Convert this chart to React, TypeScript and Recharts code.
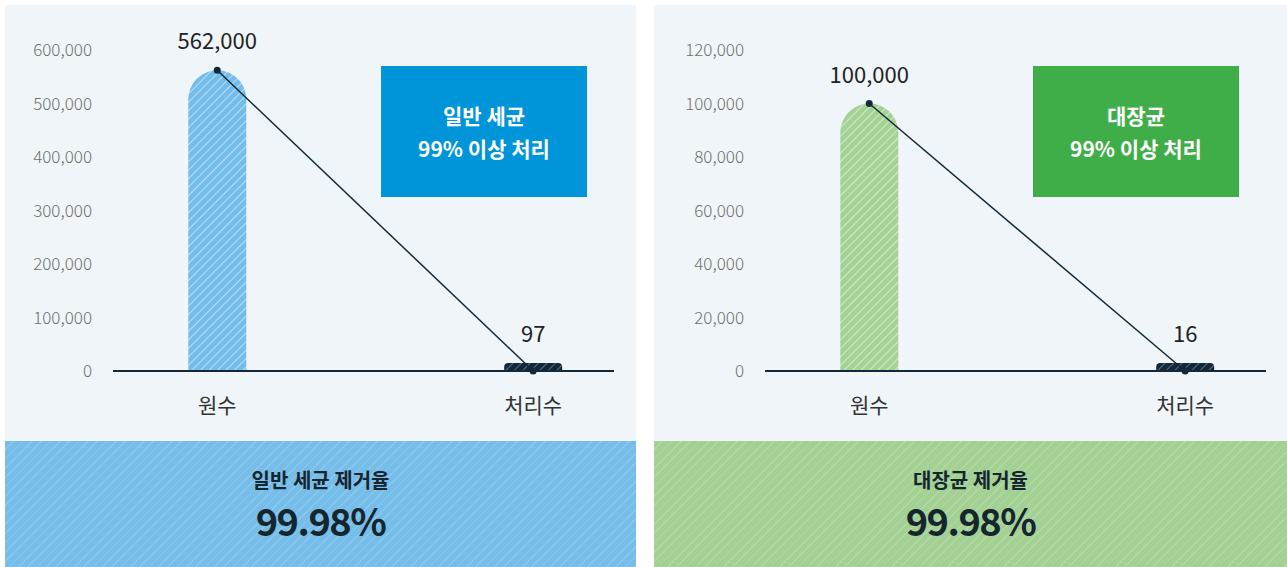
import { ComposedChart, Bar, Line, XAxis, YAxis, Cell, LabelList } from "recharts";

const categories = ["원수", "처리수"];
const germValues = [562000, 97];
const coliValues = [100000, 16];
const germTicks = [0, 100000, 200000, 300000, 400000, 500000, 600000];
const coliTicks = [0, 20000, 40000, 60000, 80000, 100000, 120000];

const FONT = '"Noto Sans CJK KR", "Noto Sans", sans-serif';
const DARK = "#13293a";

interface PanelProps {
  id: string;
  left: number;
  width: number;
  values: number[];
  ticks: number[];
  barColor: string;
  boxColor: string;
  boxLines: string[];
  bandColor: string;
  bandTitle: string;
  rate: string;
  chartShift: number;
}

function Dot(props: any) {
  const { cx, cy } = props;
  if (cx == null || cy == null) return null;
  return <circle cx={cx} cy={cy} r={3.5} fill={DARK} />;
}

function Panel({
  id,
  left,
  width,
  values,
  ticks,
  barColor,
  boxColor,
  boxLines,
  bandColor,
  bandTitle,
  rate,
  chartShift,
}: PanelProps) {
  const data = categories.map((name, idx) => ({ idx, name, value: values[idx] }));
  const max = ticks[ticks.length - 1];

  return (
    <div style={{ position: "absolute", left, top: 5, width, height: 562, background: "#eff5f8" }}>
      <div style={{ position: "absolute", left: chartShift, top: 0 }}>
        <ComposedChart
          width={631}
          height={436}
          data={data}
          margin={{ top: 45, right: 22, bottom: 0, left: 0 }}
        >
          <defs>
            <pattern
              id={`${id}-light`}
              patternUnits="userSpaceOnUse"
              width={6}
              height={6}
              patternTransform="rotate(45)"
            >
              <rect width={6} height={6} fill={barColor} />
              <line x1={0} y1={0} x2={0} y2={6} stroke="#ffffff" strokeWidth={1.2} strokeOpacity={0.85} />
            </pattern>
            <pattern
              id={`${id}-dark`}
              patternUnits="userSpaceOnUse"
              width={6}
              height={6}
              patternTransform="rotate(45)"
            >
              <rect width={6} height={6} fill={DARK} />
              <line x1={0} y1={0} x2={0} y2={6} stroke="#9fb3c0" strokeWidth={1} />
            </pattern>
          </defs>
          <XAxis
            dataKey="idx"
            type="number"
            domain={[-0.33, 1.256]}
            ticks={[0, 1]}
            tickFormatter={(i: number) => categories[i]}
            axisLine={{ stroke: DARK, strokeWidth: 2 }}
            tickLine={false}
            tickSize={0}
            tickMargin={27}
            height={70}
            tick={{ fontSize: 21, fill: "#333333", fontFamily: FONT }}
          />
          <YAxis
            type="number"
            domain={[0, max]}
            ticks={ticks}
            tickFormatter={(v: number) => v.toLocaleString("en-US")}
            axisLine={false}
            tickLine={false}
            tickSize={0}
            tickMargin={21}
            width={108}
            tick={{ fontSize: 17, fill: "#707070", fontFamily: FONT, fontWeight: 300 }}
          />
          <Bar
            dataKey="value"
            barSize={58}
            minPointSize={8}
            radius={[29, 29, 0, 0]}
            isAnimationActive={false}
          >
            {data.map((d) => (
              <Cell key={d.name} fill={`url(#${id}-${d.idx === 0 ? "light" : "dark"})`} />
            ))}
            <LabelList
              dataKey="value"
              position="top"
              offset={21}
              formatter={(v: any) => Number(v).toLocaleString("en-US")}
              style={{ fontSize: 22, fill: "#222222", fontFamily: FONT }}
            />
          </Bar>
          <Line
            dataKey="value"
            stroke={DARK}
            strokeWidth={1.5}
            dot={<Dot />}
            activeDot={false}
            isAnimationActive={false}
          />
        </ComposedChart>
      </div>

      <div
        style={{
          position: "absolute",
          left: 376 + chartShift,
          top: 61,
          width: 206,
          height: 131,
          background: boxColor,
          color: "#ffffff",
          fontFamily: FONT,
          fontWeight: 700,
          fontSize: 21,
          lineHeight: "33px",
          display: "flex",
          flexDirection: "column",
          alignItems: "center",
          justifyContent: "center",
        }}
      >
        {boxLines.map((t) => (
          <div key={t}>{t}</div>
        ))}
      </div>

      <div
        style={{
          position: "absolute",
          left: 0,
          top: 436,
          width,
          height: 126,
          backgroundColor: bandColor,
          backgroundImage:
            "repeating-linear-gradient(135deg, rgba(255,255,255,0) 0px, rgba(255,255,255,0) 5.5px, rgba(255,255,255,0.16) 5.5px, rgba(255,255,255,0.16) 6.6px)",
          fontFamily: FONT,
          color: "#15262f",
          textAlign: "center",
        }}
      >
        <div style={{ position: "absolute", left: 0, right: 0, top: 24, fontSize: 20, fontWeight: 700, lineHeight: "30px" }}>
          {bandTitle}
        </div>
        <div
          style={{
            position: "absolute",
            left: 0,
            right: 0,
            top: 59,
            fontSize: 38,
            fontWeight: 700,
            lineHeight: "40px",
            letterSpacing: -1.5,
          }}
        >
          {rate}
        </div>
      </div>
    </div>
  );
}

export default function App() {
  return (
    <div style={{ position: "absolute", left: 0, top: 0, width: 1287, height: 567, background: "#ffffff", overflow: "hidden" }}>
      <Panel
        id="germ"
        left={5}
        width={631}
        values={germValues}
        ticks={germTicks}
        barColor="#74bce9"
        boxColor="#0094d8"
        boxLines={["일반 세균", "99% 이상 처리"]}
        bandColor="#76bde9"
        bandTitle="일반 세균 제거율"
        rate="99.98%"
        chartShift={0}
      />
      <Panel
        id="coli"
        left={654}
        width={633}
        values={coliValues}
        ticks={coliTicks}
        barColor="#a4d295"
        boxColor="#3fae49"
        boxLines={["대장균", "99% 이상 처리"]}
        bandColor="#a3d194"
        bandTitle="대장균 제거율"
        rate="99.98%"
        chartShift={3}
      />
    </div>
  );
}
